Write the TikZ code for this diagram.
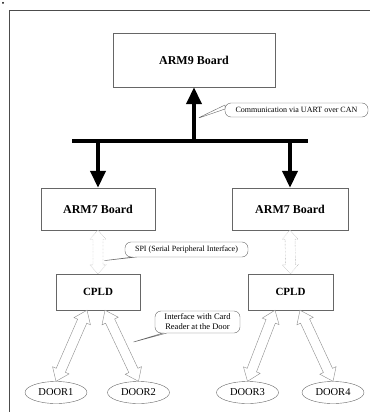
\documentclass[tikz,border=0pt]{standalone}
\usepackage{fontspec}
\setmainfont{Liberation Serif}
\usetikzlibrary{arrows.meta,calc,shapes.geometric,shapes.callouts}

\begin{document}
\begin{tikzpicture}[
			x=1pt, y=-1pt,
			board/.style={rectangle,draw=black!60,fill=white,thin,
			inner sep=0pt,font=\fontsize{12}{14}\selectfont\bfseries},
			chip/.style={board,font=\fontsize{11}{13}\selectfont\bfseries},
			door/.style={ellipse,draw=black!60,thin,minimum width=62pt,
			minimum height=22pt,inner sep=0pt,font=\fontsize{10.5}{12}\selectfont},
			note/.style={rectangle callout,rounded corners=6pt,draw=black!60,
			fill=white,thin,callout pointer width=4pt,inner sep=1pt,
			font=\fontsize{8}{9.5}\selectfont},
			bus/.style={line width=4pt},
			buslink/.style={line width=4pt, -{Triangle[width=15pt,length=17pt]}},
			hollow/.style n args={3}{draw=black!45,fill=white,thin,to path={
				-- ($(\tikztostart)!#1!(\tikztotarget)!#2!90:(\tikztotarget)$)
				-- ($(\tikztostart)!#1!(\tikztotarget)!#3!90:(\tikztotarget)$)
				-- ($(\tikztotarget)!#1!(\tikztostart)!#3!-90:(\tikztostart)$)
				-- ($(\tikztotarget)!#1!(\tikztostart)!#2!-90:(\tikztostart)$)
				-- (\tikztotarget)
				-- ($(\tikztotarget)!#1!(\tikztostart)!#2!90:(\tikztostart)$)
				-- ($(\tikztotarget)!#1!(\tikztostart)!#3!90:(\tikztostart)$)
				-- ($(\tikztostart)!#1!(\tikztotarget)!#3!-90:(\tikztotarget)$)
				-- ($(\tikztostart)!#1!(\tikztotarget)!#2!-90:(\tikztotarget)$)
				-- cycle}},
			spilink/.style={hollow={9pt}{8pt}{5pt},densely dotted},
			doorlink/.style={hollow={12pt}{9pt}{5pt}}
			]
			\useasboundingbox (0,0) rectangle (370,412);
			\fill (3,3) circle (1pt);
			\draw[black!70] (9,412) -- (9,10) -- (370,10);

			% boards
			\node[board, minimum width=162pt, minimum height=54pt] (arm9) at (194,60) {ARM9 Board};
			\node[board, minimum width=114pt, minimum height=42pt] (arm7a) at (98,209) {ARM7 Board};
			\node[board, minimum width=116pt, minimum height=42pt] (arm7b) at (290,209) {ARM7 Board};
			\node[chip, minimum width=84pt, minimum height=36pt] (cpld1) at (98,292) {CPLD};
			\node[chip, minimum width=85pt, minimum height=36pt] (cpld2) at (290.5,292) {CPLD};

			\node[door] (door1) at (56,392.5) {DOOR1};
			\node[door] (door2) at (138.5,392.5) {DOOR2};
			\node[door] (door3) at (247.5,392.5) {DOOR3};
			\node[door] (door4) at (333,392.5) {DOOR4};

			% CAN bus
			\coordinate (busL) at (72,141);
			\coordinate (busR) at (308,141);
			\draw[bus] (busL) -- (busR);
			\draw[buslink] (arm9.south |- busL) -- (arm9.south);
			\draw[buslink] (arm7a.north |- busL) -- (arm7a.north);
			\draw[buslink] (arm7b.north |- busL) -- (arm7b.north);

			% SPI and card reader links
			\draw[spilink] (arm7a.south) to (cpld1.north);
			\draw[spilink] (arm7b.south) to (cpld2.north);
			\draw[doorlink] ([xshift=-11pt]cpld1.south) to (door1.north);
			\draw[doorlink] ([xshift=7pt]cpld1.south) to (door2.north);
			\draw[doorlink] ([xshift=-15.5pt]cpld2.south) to (door3.north);
			\draw[doorlink] ([xshift=9.5pt]cpld2.south) to (door4.north);

			% notes
			\coordinate (p1) at (196,119);
			\coordinate (p2) at (101,261);
			\coordinate (p3) at (130,343);
			\node[note, minimum width=143pt, minimum height=14pt,
				callout absolute pointer={(p1)}] (comm) at (296.5,110)
				{Communication via UART over CAN};
			\node[note, minimum width=123pt, minimum height=15pt,
				callout absolute pointer={(p2)}] (spi) at (186.5,249.5)
				{SPI (Serial Peripheral Interface)};
			\node[note, minimum width=85pt, minimum height=22pt, align=center,
				font=\fontsize{8.5}{10}\selectfont,
				callout absolute pointer={(p3)}] (card) at (197.5,322)
				{Interface with Card\\Reader at the Door};
		\end{tikzpicture}
\end{document}
